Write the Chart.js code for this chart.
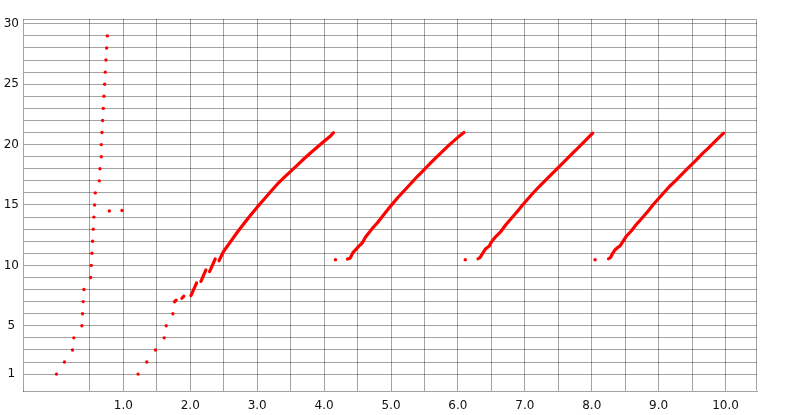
<!DOCTYPE html>
<html>
<head>
<meta charset="utf-8">
<script src="https://cdn.jsdelivr.net/npm/chart.js@4.4.1/dist/chart.umd.min.js"></script>
<style>
  html, body { margin: 0; padding: 0; background: #fff; }
</style>
</head>
<body>
<canvas id="chart" width="800" height="415"></canvas>
<script>
// tick / grid positions
const xGrid = [0.5, 1.0, 1.5, 2.0, 2.5, 3.0, 3.5, 4.0, 4.5, 5.0, 5.5, 6.0, 6.5, 7.0, 7.5, 8.0, 8.5, 9.0, 9.5, 10.0];
const xLabels = [1, 2, 3, 4, 5, 6, 7, 8, 9, 10];
const yGrid = [1, 2, 3, 4, 5, 6, 7, 8, 9, 10, 11, 12, 13, 14, 15, 16, 17, 18, 19, 20, 21, 22, 23, 24, 25, 26, 27, 28, 29, 30];
const yLabels = [1, 5, 10, 15, 20, 25, 30];

// first column of single points
const col1X = [0.00, 0.12, 0.24, 0.26, 0.38, 0.39, 0.40, 0.41, 0.51, 0.52, 0.53, 0.54, 0.55, 0.56, 0.57, 0.58, 0.64, 0.65, 0.67, 0.67, 0.68, 0.69, 0.70, 0.71, 0.72, 0.73, 0.74, 0.75, 0.76, 0.79, 0.98];
const col1Y = [1, 2, 3, 4, 5, 6, 7, 8, 9, 10, 11, 12, 13, 14, 15, 16, 17, 18, 19, 20, 21, 22, 23, 24, 25, 26, 27, 28, 29, 14.5, 14.55];

// single points at the start of the other runs
const singleX = [1.22, 1.35, 1.48, 1.61, 1.64, 1.74, 4.17, 6.11, 8.05];
const singleY = [1, 2, 3, 4, 5, 6, 10.47, 10.47, 10.47];

// dense runs (null = gap)
const run1X = [1.764, 1.789, null, 1.875, 1.904, null, 2.01, 2.05, 2.095, null, 2.159, 2.234, null, 2.288, 2.373, null,
  2.429, 2.497, 2.6, 2.7, 2.8, 2.9, 3.0, 3.1, 3.2, 3.3, 3.4, 3.5, 3.6, 3.7, 3.8, 3.9, 4.0, 4.1, 4.14];
const run1Y = [6.99, 7.12, null, 7.28, 7.45, null, 7.5, 8.0, 8.55, null, 8.67, 9.63, null, 9.49, 10.54, null,
  10.38, 11.15, 11.95, 12.72, 13.45, 14.15, 14.82, 15.45, 16.1, 16.72, 17.27, 17.79, 18.3, 18.83, 19.33, 19.8, 20.28, 20.74, 20.98];

const run2X = [4.35, 4.39, 4.43, 4.48, 4.52, 4.57, 4.62, 4.67, 4.72, 4.8, 4.9, 5.0, 5.1, 5.2, 5.3, 5.4, 5.5, 5.6, 5.7, 5.8, 5.9, 6.0, 6.09];
const run2Y = [10.52, 10.6, 11.05, 11.35, 11.6, 11.85, 12.35, 12.7, 13.05, 13.55, 14.25, 14.95, 15.6, 16.2, 16.8, 17.4, 17.95, 18.52, 19.07, 19.6, 20.12, 20.6, 21.0];

const run3X = [6.30, 6.33, 6.37, 6.41, 6.44, 6.47, 6.49, 6.53, 6.566, 6.641, 6.716, 6.8, 6.9, 6.966, 7.1, 7.215, 7.3, 7.465, 7.6, 7.715, 7.8, 7.9, 8.014];
const run3Y = [10.55, 10.65, 11.0, 11.35, 11.48, 11.6, 11.84, 12.15, 12.39, 12.8, 13.36, 13.9, 14.55, 15.0, 15.85, 16.53, 17.0, 17.91, 18.66, 19.3, 19.75, 20.3, 20.95];

const run4X = [8.25, 8.28, 8.313, 8.35, 8.388, 8.42, 8.45, 8.513, 8.59, 8.663, 8.75, 8.85, 8.913, 9.05, 9.161, 9.25, 9.411, 9.55, 9.661, 9.75, 9.85, 9.97];
const run4Y = [10.55, 10.65, 11.0, 11.3, 11.48, 11.6, 11.85, 12.39, 12.85, 13.36, 13.9, 14.55, 15.0, 15.85, 16.53, 17.0, 17.91, 18.65, 19.3, 19.75, 20.3, 20.95];

const red = "#ff0000";
const gridColor = "rgba(0,0,0,0.36)";

function pts(xs, ys) {
  return xs.map((x, i) => ({ x: x, y: ys[i] }));
}

function dots(xs, ys) {
  return {
    data: pts(xs, ys),
    backgroundColor: red,
    borderWidth: 0,
    pointRadius: 1.7,
    showLine: false
  };
}

function run(xs, ys) {
  return {
    data: pts(xs, ys),
    borderColor: red,
    borderWidth: 3.2,
    borderCapStyle: "round",
    borderJoinStyle: "round",
    pointRadius: 0,
    showLine: true,
    spanGaps: false,
    tension: 0
  };
}

// frame round the plot area
const frame = {
  id: "frame",
  afterDraw(chart) {
    const a = chart.chartArea;
    const ctx = chart.ctx;
    ctx.save();
    ctx.strokeStyle = gridColor;
    ctx.lineWidth = 1;
    ctx.beginPath();
    ctx.moveTo(Math.round(a.left) + 0.5, Math.round(a.top) + 0.5);
    ctx.lineTo(Math.round(a.right) - 0.5, Math.round(a.top) + 0.5);
    ctx.lineTo(Math.round(a.right) - 0.5, Math.round(a.bottom) - 0.5);
    ctx.stroke();
    ctx.restore();
  }
};

const chart = new Chart(document.getElementById("chart"), {
  type: "scatter",
  data: {
    datasets: [
      dots(col1X, col1Y),
      dots(singleX, singleY),
      run(run1X, run1Y),
      run(run2X, run2Y),
      run(run3X, run3Y),
      run(run4X, run4Y)
    ]
  },
  plugins: [frame],
  options: {
    responsive: false,
    animation: false,
    layout: { padding: { top: 19, right: 43, left: 0, bottom: 0 } },
    plugins: {
      legend: { display: false },
      tooltip: { enabled: false }
    },
    scales: {
      x: {
        type: "linear",
        min: -0.5,
        max: 10.47,
        afterBuildTicks: axis => { axis.ticks = xGrid.map(v => ({ value: v })); },
        afterFit: axis => { axis.height = 24; },
        grid: { color: gridColor, drawTicks: false },
        border: { color: gridColor },
        ticks: {
          autoSkip: false,
          maxRotation: 0,
          padding: 8,
          color: "#111",
          font: { family: "DejaVu Sans", size: 12 },
          callback: v => xLabels.includes(v) ? v.toFixed(1) : ""
        }
      },
      y: {
        type: "linear",
        min: -0.4,
        max: 30.4,
        afterBuildTicks: axis => { axis.ticks = yGrid.map(v => ({ value: v })); },
        afterFit: axis => { axis.width = 23; },
        grid: { color: gridColor, drawTicks: false },
        border: { color: gridColor },
        ticks: {
          autoSkip: false,
          padding: 4,
          crossAlign: "center",
          color: "#111",
          font: { family: "DejaVu Sans", size: 12 },
          callback: v => yLabels.includes(v) ? String(v) : ""
        }
      }
    }
  }
});
</script>
</body>
</html>
